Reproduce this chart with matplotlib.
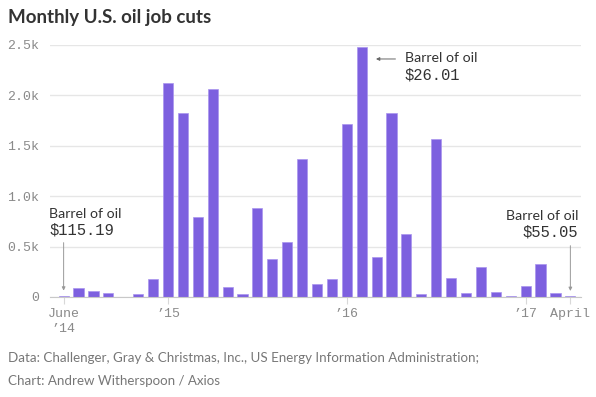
import numpy as np
import matplotlib.pyplot as plt

# monthly oil job cuts, June 2014 - April 2017
months = ['Jun 14', 'Jul 14', 'Aug 14', 'Sep 14', 'Oct 14', 'Nov 14', 'Dec 14',
          'Jan 15', 'Feb 15', 'Mar 15', 'Apr 15', 'May 15', 'Jun 15', 'Jul 15',
          'Aug 15', 'Sep 15', 'Oct 15', 'Nov 15', 'Dec 15',
          'Jan 16', 'Feb 16', 'Mar 16', 'Apr 16', 'May 16', 'Jun 16', 'Jul 16',
          'Aug 16', 'Sep 16', 'Oct 16', 'Nov 16', 'Dec 16',
          'Jan 17', 'Feb 17', 'Mar 17', 'Apr 17']
cuts = [10, 90, 60, 40, 0, 33, 175,
        2125, 1824, 794, 2062, 99, 26, 884, 377, 543, 1364, 132, 175,
        1711, 2483, 397, 1821, 629, 33, 1562, 189, 43, 295, 50, 10,
        106, 331, 40, 7]

tick_months = ['Jun 14', 'Jan 15', 'Jan 16', 'Jan 17', 'Apr 17']
tick_labels = ["June\n\u201914", "\u201915", "\u201916", "\u201917", "April"]
y_ticks = [0, 500, 1000, 1500, 2000, 2500]
y_labels = ['0', '0.5k', '1.0k', '1.5k', '2.0k', '2.5k']

# annotations: month, price
notes = [('Jun 14', '$115.19'), ('Feb 16', '$26.01'), ('Apr 17', '$55.05')]

sans = ['Lato', 'DejaVu Sans']
mono = ['Liberation Mono', 'DejaVu Sans Mono']
purple = '#7d60df'
gray = '#8a8a8a'
dark = '#333333'

x = np.arange(len(months))
idx = {m: i for i, m in enumerate(months)}

fig = plt.figure(figsize=(5.96, 3.97), dpi=100)
ax = fig.add_axes([0.084, 0.252, 0.891, 0.635])

ax.bar(x, cuts, width=0.68, color=purple, edgecolor='#a994ee', linewidth=0.5, zorder=3)

ax.set_xlim(-0.91, 34.72)
ax.set_ylim(0, 2500)
ax.set_yticks(y_ticks)
ax.set_yticklabels(y_labels, family=mono, fontsize=9.5, color=gray)
ax.set_xticks([idx[m] for m in tick_months])
ax.set_xticklabels(tick_labels, family=mono, fontsize=9.5, color=gray, linespacing=1.3)
ax.tick_params(axis='y', length=0, pad=8)
ax.tick_params(axis='x', length=5, color='#d8d8d8', width=0.8, pad=3)
ax.grid(axis='y', color='#e6e6e6', linewidth=1, zorder=0)
for s in ['top', 'right', 'left']:
    ax.spines[s].set_visible(False)
ax.spines['bottom'].set_color('#c8c8c8')
ax.spines['bottom'].set_zorder(4)

# June 2014 note
i, price = notes[0]
ax.text(idx[i] - 0.95, 824, 'Barrel of oil', family=sans, fontsize=10.2, color=dark, va='center')
ax.text(idx[i] - 0.98, 660, price, family=mono, fontsize=11.2, color=dark, va='center')
ax.annotate('', xy=(idx[i], cuts[idx[i]] + 25), xytext=(idx[i], 566),
            arrowprops=dict(arrowstyle='-|>', color='#999999', lw=0.7, mutation_scale=5))

# Feb 2016 note
i, price = notes[1]
ax.text(idx[i] + 2.9, 2373, 'Barrel of oil', family=sans, fontsize=10.2, color=dark, va='center')
ax.text(idx[i] + 2.86, 2198, price, family=mono, fontsize=11.2, color=dark, va='center')
ax.annotate('', xy=(idx[i] + 0.77, 2360), xytext=(idx[i] + 2.45, 2360),
            arrowprops=dict(arrowstyle='-|>', color='#666666', lw=0.7, mutation_scale=5))

# April 2017 note
i, price = notes[2]
ax.text(idx[i] + 0.52, 804, 'Barrel of oil', family=sans, fontsize=10.2, color=dark, va='center', ha='right')
ax.text(idx[i] + 0.54, 645, price, family=mono, fontsize=11.2, color=dark, va='center', ha='right')
ax.annotate('', xy=(idx[i], cuts[idx[i]] + 25), xytext=(idx[i], 536),
            arrowprops=dict(arrowstyle='-|>', color='#999999', lw=0.7, mutation_scale=5))

fig.text(0.013, 0.955, 'Monthly U.S. oil job cuts', family=sans, fontsize=13.5,
         fontweight='bold', color=dark, va='center')
fig.text(0.013, 0.098, 'Data: Challenger, Gray & Christmas, Inc., US Energy Information Administration;',
         family=sans, fontsize=9.6, color='#777777', va='center')
fig.text(0.013, 0.04, 'Chart: Andrew Witherspoon / Axios',
         family=sans, fontsize=9.6, color='#777777', va='center')

fig.savefig('out.png', dpi=100)
